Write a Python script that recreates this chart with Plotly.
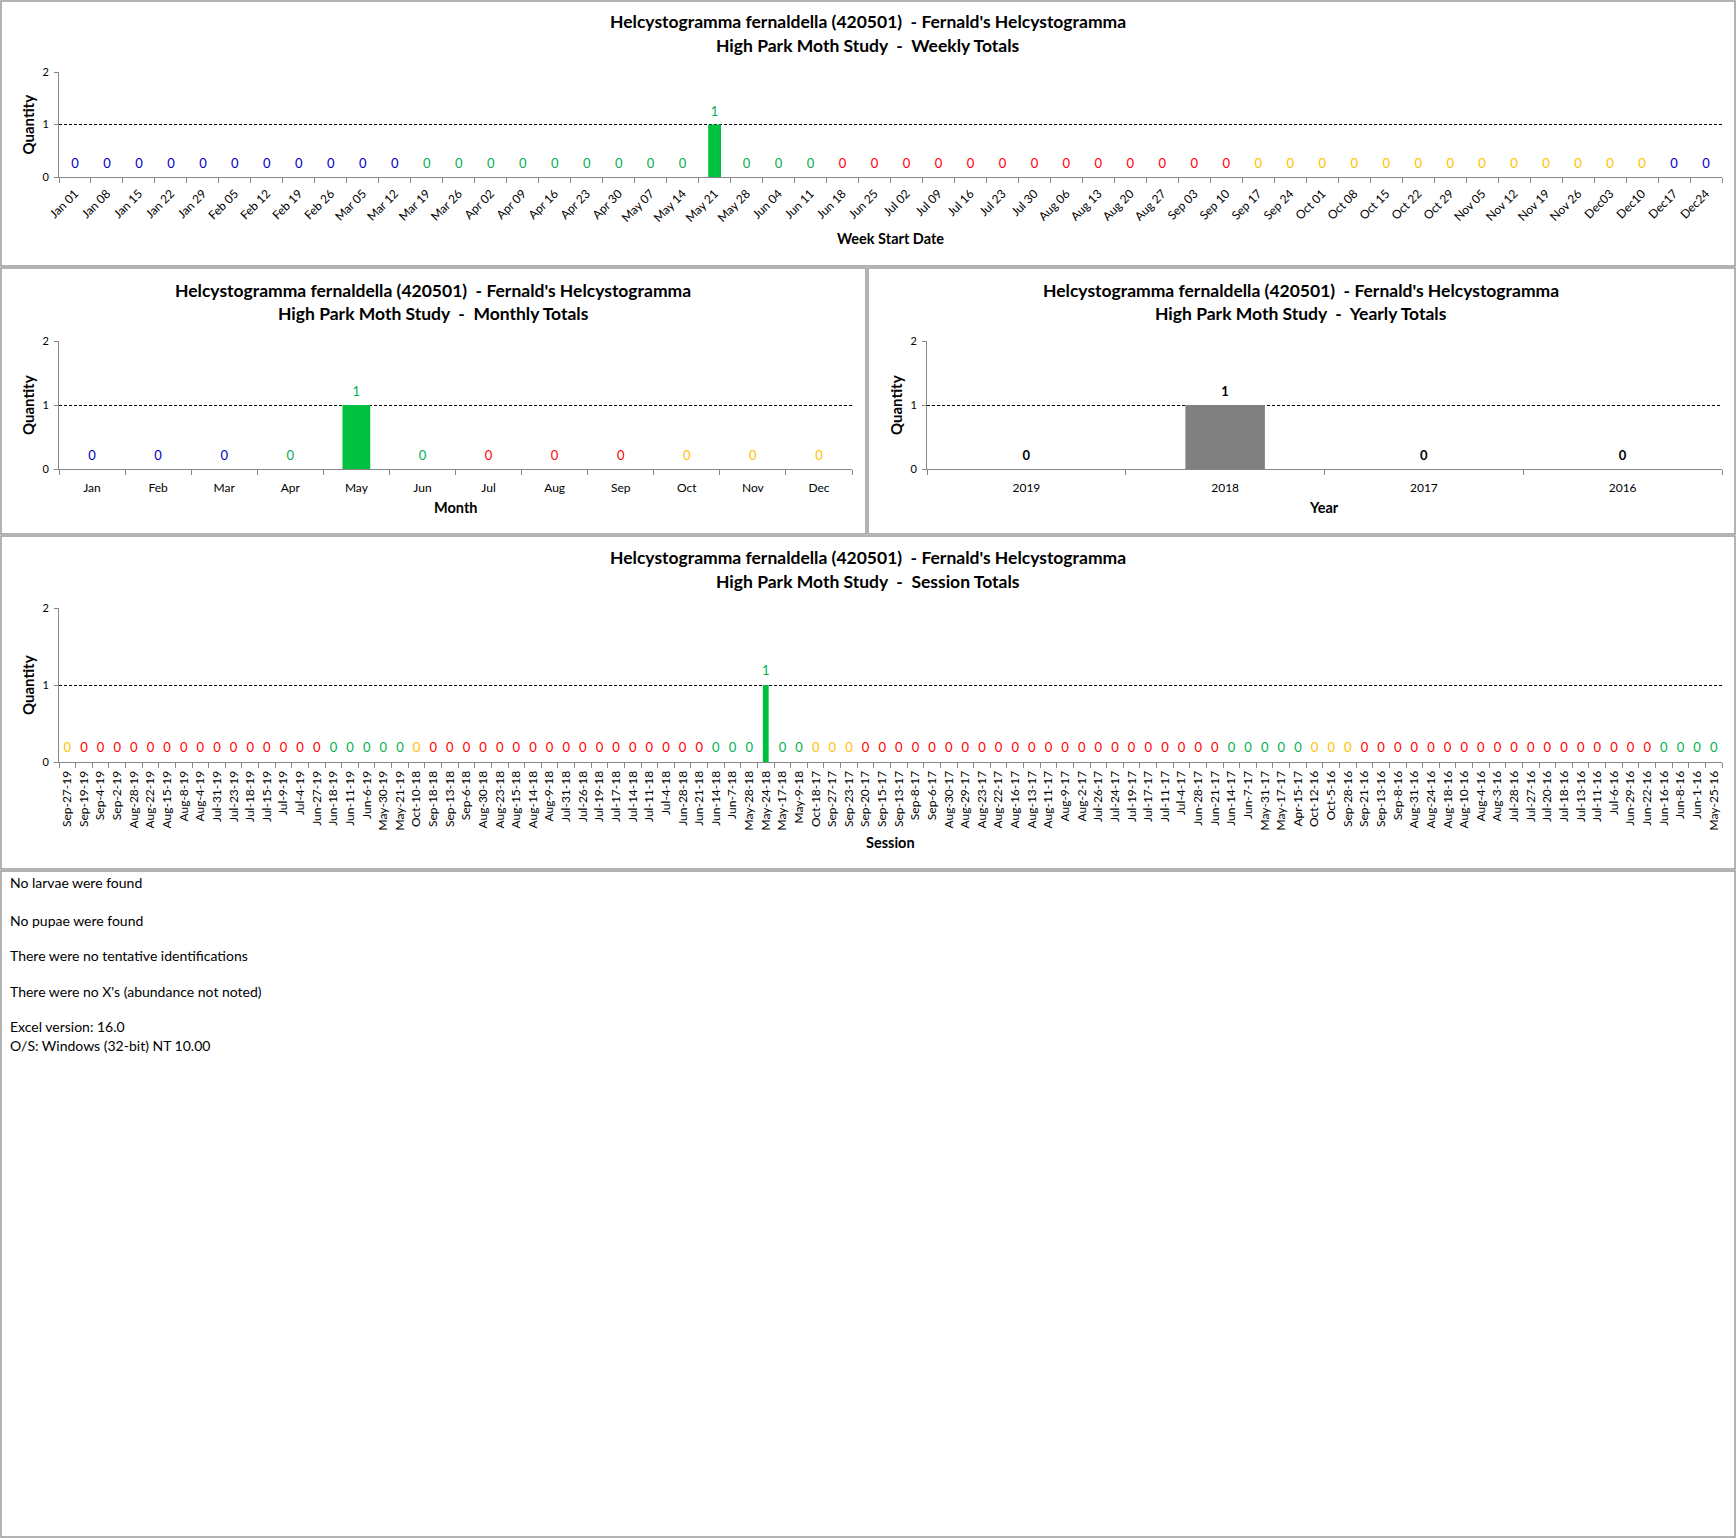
import plotly.graph_objects as go

W, H = 1736, 1538
FONT = "Lato"

TITLE_1 = "Helcystogramma fernaldella (420501)  - Fernald's Helcystogramma"
SUB_WEEKLY = "High Park Moth Study  -  Weekly Totals"
SUB_MONTHLY = "High Park Moth Study  -  Monthly Totals"
SUB_YEARLY = "High Park Moth Study  -  Yearly Totals"
SUB_SESSION = "High Park Moth Study  -  Session Totals"

weekly_labels = ["Jan 01", "Jan 08", "Jan 15", "Jan 22", "Jan 29", "Feb 05", "Feb 12", "Feb 19", "Feb 26",
                 "Mar 05", "Mar 12", "Mar 19", "Mar 26", "Apr 02", "Apr 09", "Apr 16", "Apr 23", "Apr 30",
                 "May 07", "May 14", "May 21", "May 28", "Jun 04", "Jun 11", "Jun 18", "Jun 25", "Jul 02",
                 "Jul 09", "Jul 16", "Jul 23", "Jul 30", "Aug 06", "Aug 13", "Aug 20", "Aug 27", "Sep 03",
                 "Sep 10", "Sep 17", "Sep 24", "Oct 01", "Oct 08", "Oct 15", "Oct 22", "Oct 29", "Nov 05",
                 "Nov 12", "Nov 19", "Nov 26", "Dec03", "Dec10", "Dec17", "Dec24"]
weekly_values = [0, 0, 0, 0, 0, 0, 0, 0, 0, 0, 0, 0, 0, 0, 0, 0, 0, 0, 0, 0, 1, 0, 0, 0, 0, 0,
                 0, 0, 0, 0, 0, 0, 0, 0, 0, 0, 0, 0, 0, 0, 0, 0, 0, 0, 0, 0, 0, 0, 0, 0, 0, 0]
weekly_season = ["W"] * 11 + ["Sp"] * 13 + ["Su"] * 13 + ["F"] * 13 + ["W"] * 2

monthly_labels = ["Jan", "Feb", "Mar", "Apr", "May", "Jun", "Jul", "Aug", "Sep", "Oct", "Nov", "Dec"]
monthly_values = [0, 0, 0, 0, 1, 0, 0, 0, 0, 0, 0, 0]
monthly_season = ["W", "W", "W", "Sp", "Sp", "Sp", "Su", "Su", "Su", "F", "F", "F"]

yearly_labels = ["2019", "2018", "2017", "2016"]
yearly_values = [0, 1, 0, 0]

session_labels = [
    "Sep-27-19", "Sep-19-19", "Sep-4-19", "Sep-2-19", "Aug-28-19", "Aug-22-19", "Aug-15-19", "Aug-8-19",
    "Aug-4-19", "Jul-31-19", "Jul-23-19", "Jul-18-19", "Jul-15-19", "Jul-9-19", "Jul-4-19", "Jun-27-19",
    "Jun-18-19", "Jun-11-19", "Jun-6-19", "May-30-19", "May-21-19",
    "Oct-10-18", "Sep-18-18", "Sep-13-18", "Sep-6-18", "Aug-30-18", "Aug-23-18", "Aug-15-18", "Aug-14-18",
    "Aug-9-18", "Jul-31-18", "Jul-26-18", "Jul-19-18", "Jul-17-18", "Jul-14-18", "Jul-11-18", "Jul-4-18",
    "Jun-28-18", "Jun-21-18", "Jun-14-18", "Jun-7-18", "May-28-18", "May-24-18", "May-17-18", "May-9-18",
    "Oct-18-17", "Sep-27-17", "Sep-23-17", "Sep-20-17", "Sep-15-17", "Sep-13-17", "Sep-8-17", "Sep-6-17",
    "Aug-30-17", "Aug-29-17", "Aug-23-17", "Aug-22-17", "Aug-16-17", "Aug-13-17", "Aug-11-17", "Aug-9-17",
    "Aug-2-17", "Jul-26-17", "Jul-24-17", "Jul-19-17", "Jul-17-17", "Jul-11-17", "Jul-4-17", "Jun-28-17",
    "Jun-21-17", "Jun-14-17", "Jun-7-17", "May-31-17", "May-17-17", "Apr-15-17",
    "Oct-12-16", "Oct-5-16", "Sep-28-16", "Sep-21-16", "Sep-13-16", "Sep-8-16", "Aug-31-16", "Aug-24-16",
    "Aug-18-16", "Aug-10-16", "Aug-4-16", "Aug-3-16", "Jul-28-16", "Jul-27-16", "Jul-20-16", "Jul-18-16",
    "Jul-13-16", "Jul-11-16", "Jul-6-16", "Jun-29-16", "Jun-22-16", "Jun-16-16", "Jun-8-16", "Jun-1-16",
    "May-25-16"]
session_values = [0] * 42 + [1] + [0] * 57
session_season = (["F"] + ["Su"] * 15 + ["Sp"] * 5 +
                  ["F"] + ["Su"] * 17 + ["Sp"] * 6 +
                  ["F"] * 3 + ["Su"] * 22 + ["Sp"] * 5 +
                  ["F"] * 3 + ["Su"] * 18 + ["Sp"] * 4)

notes = ["No larvae were found", "No pupae were found", "There were no tentative identifications",
         "There were no X's (abundance not noted)", "Excel version: 16.0", "O/S: Windows (32-bit) NT 10.00"]

SEASON_TEXT = {"W": "#0000C0", "Sp": "#00B050", "Su": "#FF0000", "F": "#FFC000"}
BAR_GREEN = "#00C040"
BAR_GRAY = "#808080"


def px_x(x):
    return x / W


def px_y(y):
    return 1 - y / H


fig = go.Figure()


def add_chart(idx, labels, values, text_colors, bar_colors, width, bold=False, tfs=13, msize=7):
    xa = "x" if idx == 1 else f"x{idx}"
    ya = "y" if idx == 1 else f"y{idx}"
    fig.add_trace(go.Bar(x=labels, y=values, marker=dict(color=bar_colors, line=dict(width=0)),
                         width=width, xaxis=xa, yaxis=ya, showlegend=False, hoverinfo="x+y"))
    txt = [f"<b>{v}</b>" if bold else str(v) for v in values]
    fig.add_trace(go.Scatter(x=labels, y=values, mode="markers+text", text=txt, textposition="top center",
                             marker=dict(size=msize, color="rgba(0,0,0,0)"),
                             textfont=dict(family=FONT, size=tfs, color=text_colors),
                             xaxis=xa, yaxis=ya, showlegend=False, cliponaxis=False, hoverinfo="skip"))


add_chart(1, weekly_labels, weekly_values, [SEASON_TEXT[s] for s in weekly_season],
          [BAR_GREEN] * len(weekly_labels), 0.4)
add_chart(2, monthly_labels, monthly_values, [SEASON_TEXT[s] for s in monthly_season],
          [BAR_GREEN] * len(monthly_labels), 0.42)
add_chart(3, yearly_labels, yearly_values, ["#000000"] * len(yearly_labels),
          [BAR_GRAY] * len(yearly_labels), 0.4, bold=True)
add_chart(4, session_labels, session_values, [SEASON_TEXT[s] for s in session_season],
          [BAR_GREEN] * len(session_labels), 0.35, msize=9)

domains = {
    1: ((59, 1722), (72, 177), len(weekly_labels)),
    2: ((59, 852), (341, 469), len(monthly_labels)),
    3: ((927, 1722), (341, 469), len(yearly_labels)),
    4: ((59, 1722), (608, 762), len(session_labels)),
}
tickangles = {1: -45, 2: 0, 3: 0, 4: -90}
standoffs = {1: 4, 2: 8, 3: 8, 4: 3}

layout_axes = {}
for i, ((x0, x1), (y0, y1), n) in domains.items():
    xk = "xaxis" if i == 1 else f"xaxis{i}"
    yk = "yaxis" if i == 1 else f"yaxis{i}"
    ya_ref = "y" if i == 1 else f"y{i}"
    xa_ref = "x" if i == 1 else f"x{i}"
    layout_axes[xk] = dict(domain=[px_x(x0), px_x(x1)], anchor=ya_ref, type="category",
                           range=[-0.5, n - 0.5], automargin=False, ticklabelstandoff=standoffs[i],
                           showline=True, linecolor="#868686", linewidth=1, ticks="outside",
                           tickson="boundaries", ticklen=5, tickcolor="#868686", showgrid=False,
                           tickangle=tickangles[i], tickfont=dict(family=FONT, size=12, color="#000000"),
                           fixedrange=True)
    layout_axes[yk] = dict(domain=[px_y(y1), px_y(y0)], anchor=xa_ref, range=[0, 2], automargin=False,
                           tickvals=[0, 1, 2], showline=True, linecolor="#868686", linewidth=1,
                           ticks="outside", ticklen=4, tickcolor="#868686", showgrid=True,
                           gridcolor="#000000", griddash="3px,2px", gridwidth=1, zeroline=False,
                           ticklabelstandoff=3,
                           tickfont=dict(family=FONT, size=11, color="#000000"), fixedrange=True)

fig.update_layout(**layout_axes)

annotations = []


def add_text(x, y, text, size, bold=False, angle=0, xanchor="center", color="#000000"):
    annotations.append(dict(x=px_x(x), y=px_y(y), xref="paper", yref="paper",
                            text=f"<b>{text}</b>" if bold else text, showarrow=False,
                            font=dict(family=FONT, size=size, color=color), textangle=angle,
                            xanchor=xanchor, yanchor="middle"))


# Titles
for cx, y1, y2, sub in [(868, 22, 45, SUB_WEEKLY), (433, 290, 313, SUB_MONTHLY),
                        (1301, 290, 313, SUB_YEARLY), (868, 558, 581, SUB_SESSION)]:
    add_text(cx, y1, TITLE_1, 17.5, bold=True)
    add_text(cx, y2, sub, 17.5, bold=True)

# Axis titles
add_text(890, 239, "Week Start Date", 14.5, bold=True)
add_text(455, 508, "Month", 14.5, bold=True)
add_text(1324, 508, "Year", 14.5, bold=True)
add_text(890, 842, "Session", 14.5, bold=True)
for qx, (y0, y1) in [(28, (72, 177)), (28, (341, 469)), (896, (341, 469)), (28, (608, 762))]:
    add_text(qx, (y0 + y1) / 2, "Quantity", 15, bold=True, angle=-90)

# Notes
for ny, line in zip([883, 920, 955, 991, 1026, 1045], notes):
    add_text(8, ny, line, 14, xanchor="left")

shapes = []
for (x0, y0, x1, y1) in [(1, 1, 1735, 266), (1, 268, 866, 534), (868, 268, 1735, 534),
                         (1, 536, 1735, 869), (1, 871, 1735, 1537)]:
    shapes.append(dict(type="rect", xref="paper", yref="paper", x0=px_x(x0), x1=px_x(x1),
                       y0=px_y(y1), y1=px_y(y0), line=dict(color="#9a9a9a", width=1.5),
                       fillcolor="rgba(0,0,0,0)", layer="below"))

fig.update_layout(width=W, height=H, margin=dict(l=0, r=0, t=0, b=0, pad=0, autoexpand=False),
                  paper_bgcolor="white", plot_bgcolor="white", annotations=annotations,
                  shapes=shapes, bargap=0.6, font=dict(family=FONT))

POST = "document.body.style.margin='0px';document.body.style.padding='0px';"

fig.write_html("out.html", config={"displayModeBar": False}, post_script=POST)
